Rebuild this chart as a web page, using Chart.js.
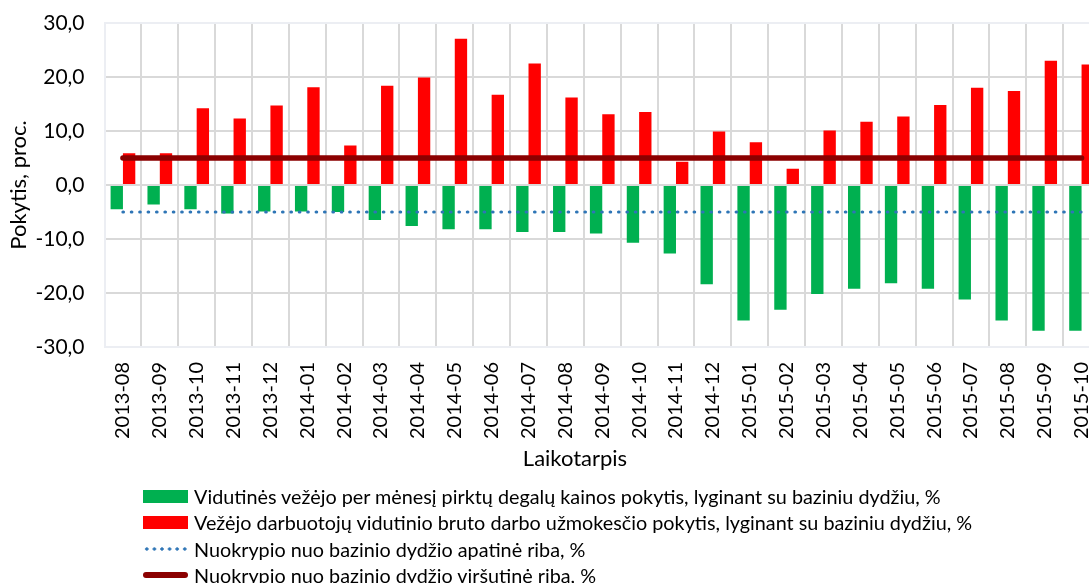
<!DOCTYPE html>
<html>
<head>
<meta charset="utf-8">
<script src="https://cdn.jsdelivr.net/npm/chart.js@4"></script>
<style>
  body { margin: 0; background: #fff; overflow: hidden; }
  #wrap { position: relative; width: 1150px; height: 583px; }
  #chartBox { position: absolute; left: 0; top: 0; width: 1150px; height: 583px; }
  #legend { position: absolute; left: 143px; top: 483px; font-family: Lato, sans-serif; font-size: 19.8px; color: #000; }
  .row { height: 26.3px; display: flex; align-items: center; }
  .sw { width: 45px; margin-right: 6px; }
</style>
</head>
<body>
<div id="wrap">
  <div id="chartBox"><canvas id="myChart"></canvas></div>
  <div id="legend"></div>
</div>
<script>
const categories = ["2013-08", "2013-09", "2013-10", "2013-11", "2013-12",
  "2014-01", "2014-02", "2014-03", "2014-04", "2014-05", "2014-06", "2014-07",
  "2014-08", "2014-09", "2014-10", "2014-11", "2014-12",
  "2015-01", "2015-02", "2015-03", "2015-04", "2015-05", "2015-06", "2015-07",
  "2015-08", "2015-09", "2015-10"];

// fuel price change vs base, %
const fuelChange = [-4.5, -3.6, -4.5, -5.3, -4.9, -4.9, -5.0, -6.5, -7.6, -8.2, -8.2, -8.7, -8.7, -9.0,
  -10.7, -12.7, -18.4, -25.1, -23.1, -20.2, -19.2, -18.2, -19.2, -21.2, -25.1, -27.0, -27.0];

// wage change vs base, %
const wageChange = [5.9, 5.9, 14.2, 12.3, 14.7, 18.1, 7.3, 18.4, 19.9, 27.1, 16.7, 22.5, 16.2, 13.1,
  13.5, 4.3, 9.9, 7.9, 3.0, 10.1, 11.7, 12.7, 14.8, 18.0, 17.4, 23.0, 22.3];

const lowerLimit = [-5, -5, -5, -5, -5, -5, -5, -5, -5, -5, -5, -5, -5, -5,
  -5, -5, -5, -5, -5, -5, -5, -5, -5, -5, -5, -5, -5];
const upperLimit = [5, 5, 5, 5, 5, 5, 5, 5, 5, 5, 5, 5, 5, 5,
  5, 5, 5, 5, 5, 5, 5, 5, 5, 5, 5, 5, 5];

const yTicks = [-30, -20, -10, 0, 10, 20, 30];

const seriesNames = [
  "Vidutinės vežėjo per mėnesį pirktų degalų kainos pokytis, lyginant su baziniu dydžiu, %",
  "Vežėjo darbuotojų vidutinio bruto darbo užmokesčio pokytis, lyginant su baziniu dydžiu, %",
  "Nuokrypio nuo bazinio dydžio apatinė riba, %",
  "Nuokrypio nuo bazinio dydžio viršutinė riba, %"
];

const FONT = "Lato, sans-serif";
const gridColor = "#d9d9d9";
const edgeColor = "#eceef3";

const ctx = document.getElementById("myChart");
const chart = new Chart(ctx, {
  type: "bar",
  data: {
    labels: categories,
    datasets: [
      {
        label: seriesNames[0],
        data: fuelChange,
        backgroundColor: "#00b050",
        categoryPercentage: 0.67,
        barPercentage: 1,
        order: 1,
      },
      {
        label: seriesNames[1],
        data: wageChange,
        backgroundColor: "#ff0000",
        categoryPercentage: 0.67,
        barPercentage: 1,
        order: 1,
      },
      {
        type: "line",
        label: seriesNames[2],
        data: lowerLimit,
        borderColor: "#2e75b6",
        borderWidth: 3.2,
        borderDash: [0.5, 7.9],
        borderCapStyle: "round",
        pointRadius: 0,
        order: 0,
      },
      {
        type: "line",
        label: seriesNames[3],
        data: upperLimit,
        borderColor: "#8b0000",
        borderWidth: 5.5,
        borderCapStyle: "round",
        pointRadius: 0,
        order: 0,
      },
    ],
  },
  options: {
    responsive: true,
    maintainAspectRatio: false,
    animation: false,
    layout: { padding: { left: 0, right: 0, top: 23, bottom: 110.6 } },
    plugins: {
      legend: { display: false },
      tooltip: { enabled: false },
      title: {
        display: true,
        position: "bottom",
        text: "Laikotarpis",
        color: "#000",
        font: { family: FONT, size: 22, weight: "normal" },
        padding: { top: -8, bottom: 0 },
      },
    },
    scales: {
      x: {
        grid: { color: gridColor, lineWidth: 2, drawTicks: false },
        border: { color: edgeColor, width: 2 },
        ticks: {
          color: "#000",
          font: { family: FONT, size: 20 },
          minRotation: 90,
          maxRotation: 90,
          padding: 15,
          autoSkip: false,
        },
      },
      y: {
        min: -30,
        max: 30,
        afterBuildTicks: (axis) => {
          axis.ticks = yTicks.map((v) => ({ value: v }));
        },
        // keep only half a label of room above/below, not the tick padding too
        afterFit: (s) => {
          s.paddingTop = 12;
          s.paddingBottom = 12;
        },
        grid: {
          drawTicks: false,
          lineWidth: 2,
          color: (c) => (c.tick && Math.abs(c.tick.value) === 30 ? edgeColor : gridColor),
        },
        border: { color: edgeColor, width: 2 },
        ticks: {
          color: "#000",
          font: { family: FONT, size: 21 },
          padding: 20,
          callback: (v) => v.toFixed(1).replace(".", ","),
        },
        title: {
          display: true,
          text: "Pokytis, proc.",
          color: "#000",
          font: { family: FONT, size: 22 },
          padding: { top: 6, bottom: -17 },
        },
      },
      // empty spacer on the right so the plot runs past the window edge
      spacer: {
        position: "right",
        grid: { drawOnChartArea: false, drawTicks: false },
        border: { display: false },
        ticks: { display: false },
        afterFit: (s) => { s.width = 50; },
      },
    },
  },
});

// legend built from the datasets
const legendBox = document.getElementById("legend");
chart.data.datasets.forEach((ds) => {
  const row = document.createElement("div");
  row.className = "row";
  const sw = document.createElement("div");
  sw.className = "sw";
  if (ds.type !== "line") {
    sw.style.height = "13px";
    sw.style.background = ds.backgroundColor;
  } else if (ds.borderDash) {
    sw.style.height = "4px";
    sw.style.background = "radial-gradient(circle, " + ds.borderColor + " 1.4px, transparent 1.9px) 0 0 / 7.6px 4px repeat-x";
  } else {
    sw.style.height = ds.borderWidth + "px";
    sw.style.borderRadius = "3px";
    sw.style.background = ds.borderColor;
  }
  const txt = document.createElement("span");
  txt.textContent = ds.label;
  row.appendChild(sw);
  row.appendChild(txt);
  legendBox.appendChild(row);
});
</script>
</body>
</html>
